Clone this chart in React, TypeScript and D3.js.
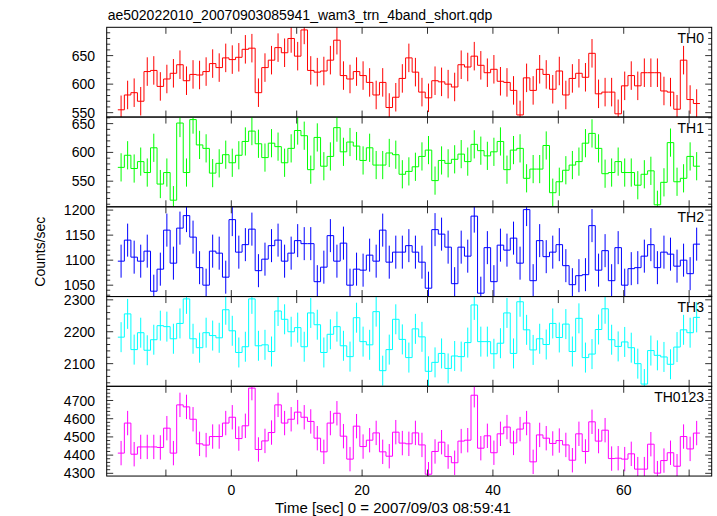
import React from "react";
import * as d3 from "d3";

const W = 717;
const H = 516;
const title = "ae502022010_20070903085941_wam3_trn_4band_short.qdp";
const xLabel = "Time [sec] 0 = 2007/09/03 08:59:41";
const yLabel = "Counts/sec";

const firstBinCenter = -16.85;
const binWidth = 1;

const th0 = [555,581,585,570,622,624,596,609,619,634,606,617,616,622,636,629,646,643,647,661,663,585,629,642,664,655,680,649,695,624,621,623,642,677,615,609,622,615,603,581,603,559,577,610,646,621,586,576,606,604,600,595,634,630,649,633,620,626,605,603,589,546,611,589,626,617,591,623,581,610,619,612,654,583,586,586,548,597,615,597,620,620,620,588,586,556,642,573,566];
const th1 = [574,595,572,584,565,608,545,565,517,651,565,657,613,607,564,581,596,582,595,619,637,615,591,616,610,582,607,638,629,570,626,576,593,643,601,618,611,586,608,578,578,599,596,562,567,575,593,604,551,586,581,588,597,584,614,603,594,601,619,570,604,607,555,571,571,612,530,549,569,578,584,616,633,607,563,565,584,565,565,543,562,568,509,548,617,549,555,593,576];
const th2 = [1098,1140,1106,1098,1118,1038,1082,1160,1094,1164,1189,1146,1085,1050,1118,1114,1066,1181,1116,1131,1162,1079,1102,1129,1140,1098,1114,1139,1133,1133,1057,1086,1149,1098,1134,1050,1082,1080,1110,1098,1160,1096,1116,1116,1129,1116,1096,1044,1161,1152,1126,1053,1126,1108,1188,1034,1125,1057,1130,1120,1144,1094,1201,1059,1139,1107,1116,1131,1089,1051,1069,1071,1169,1080,1119,1059,1125,1050,1083,1085,1108,1131,1085,1116,1112,1088,1100,1073,1132];
const th3 = [2183,2256,2144,2197,2142,2175,2219,2216,2178,2226,2303,2178,2150,2197,2188,2181,2269,2203,2135,2153,2303,2156,2159,2138,2265,2239,2200,2213,2153,2259,2222,2135,2192,2216,2156,2122,2244,2169,2159,2263,2078,2144,2239,2176,2119,2209,2184,2076,2104,2132,2085,2124,2122,2166,2284,2169,2169,2131,2164,2259,2132,2294,2206,2143,2178,2160,2226,2182,2224,2138,2242,2119,2130,2207,2272,2175,2154,2168,2150,2100,2036,2141,2126,2121,2098,2152,2206,2197,2245];
const th0123 = [4411,4576,4405,4445,4445,4445,4442,4548,4411,4676,4665,4597,4462,4455,4502,4502,4576,4608,4491,4561,4768,4431,4478,4524,4676,4576,4597,4636,4608,4585,4493,4418,4576,4630,4504,4378,4559,4447,4482,4522,4418,4394,4526,4466,4462,4522,4456,4295,4420,4471,4392,4358,4477,4482,4729,4438,4506,4413,4517,4554,4467,4543,4576,4363,4511,4493,4464,4480,4456,4372,4517,4420,4583,4477,4537,4381,4383,4378,4407,4323,4323,4460,4301,4370,4413,4339,4502,4434,4521];

const seriesList = [th0, th1, th2, th3, th0123];
const panelNames = ["TH0", "TH1", "TH2", "TH3", "TH0123"];
const panelColors = ["#ff0000", "#00ff00", "#0000ff", "#00ffff", "#ff00ff"];
const errHalf = [25, 24.5, 33, 47, 67];
const yDomains = [[542.3, 699.6], [505.5, 661.4], [1027.3, 1206.6], [2029, 2310.3], [4285, 4778]];
const yTickValues = [[550, 600, 650], [550, 600, 650], [1050, 1100, 1150, 1200], [2100, 2200, 2300], [4300, 4400, 4500, 4600, 4700]];
const yMinorStep = [10, 10, 10, 20, 20];
const xDomain = [-19.05, 73.45];
const xTickValues = [-10, 0, 10, 20, 30, 40, 50, 60, 70];
const xLabelValues = [0, 20, 40, 60];

const FONT = "'Liberation Sans', Arial, Helvetica, sans-serif";
const left = 106.7;
const right = 711.7;
const top0 = 27.3;
const panelH = 89.75;
const majorLen = 6.5;
const minorLen = 3.5;

export default function App() {
  const x = d3.scaleLinear().domain(xDomain).range([left, right]);
  const times = d3.range(th0.length).map((i) => firstBinCenter + i * binWidth);

  return (
    <svg
      width={W}
      height={H}
      viewBox={`0 0 ${W} ${H}`}
      style={{ position: "absolute", left: 0, top: 0, background: "#fff" }}
      fontFamily={FONT}
    >
      <defs>
        {seriesList.map((_, p) => (
          <clipPath id={`clip${p}`} key={p}>
            <rect x={left} y={top0 + p * panelH} width={right - left} height={panelH} />
          </clipPath>
        ))}
      </defs>
      <rect x={0} y={0} width={W} height={H} fill="#fff" />
      <text x={left + 1} y={20} fontSize={14} fill="#000">{title}</text>
      {seriesList.map((vals, p) => {
        const pt = top0 + p * panelH;
        const pb = pt + panelH;
        const y = d3.scaleLinear().domain(yDomains[p]).range([pb, pt]);
        const pts: [number, number][] = [];
        vals.forEach((v, i) => {
          pts.push([x(times[i] - binWidth / 2), y(v)]);
          pts.push([x(times[i] + binWidth / 2), y(v)]);
        });
        const line = d3.line()(pts) || "";
        const [d0, d1] = yDomains[p];
        const minors = d3.range(Math.ceil(d0 / yMinorStep[p]) * yMinorStep[p], d1, yMinorStep[p]);
        const color = panelColors[p];
        return (
          <g key={p}>
            <g clipPath={`url(#clip${p})`}>
              {vals.map((v, i) => (
                <line
                  key={i}
                  x1={x(times[i])}
                  x2={x(times[i])}
                  y1={y(v - errHalf[p])}
                  y2={y(v + errHalf[p])}
                  stroke={color}
                  strokeWidth={1}
                />
              ))}
              <path d={line} fill="none" stroke={color} strokeWidth={1} />
            </g>
            {minors.map((m) => {
              const isMajor = yTickValues[p].includes(m);
              const len = isMajor ? majorLen : minorLen;
              return (
                <g key={m} stroke="#333" strokeWidth={1}>
                  <line x1={left} x2={left + len} y1={y(m)} y2={y(m)} />
                  <line x1={right} x2={right - len} y1={y(m)} y2={y(m)} />
                </g>
              );
            })}
            {xTickValues.map((t) => (
              <g key={t} stroke="#333" strokeWidth={1}>
                <line x1={x(t)} x2={x(t)} y1={pt} y2={pt + majorLen} />
                <line x1={x(t)} x2={x(t)} y1={pb} y2={pb - majorLen} />
              </g>
            ))}
            {yTickValues[p].map((tv) => (
              <text
                key={tv}
                x={95}
                y={y(tv)}
                dy="0.36em"
                textAnchor="end"
                fontSize={14}
                fill="#000"
              >
                {tv}
              </text>
            ))}
            <text x={704} y={pt + 15.5} textAnchor="end" fontSize={14} fill="#000">
              {panelNames[p]}
            </text>
            <rect x={left} y={pt} width={right - left} height={panelH} fill="none" stroke="#000" strokeWidth={1} />
          </g>
        );
      })}
      {xLabelValues.map((t) => (
        <text key={t} x={x(t)} y={495} textAnchor="middle" fontSize={14} fill="#000">
          {t}
        </text>
      ))}
      <text x={275} y={513} textAnchor="start" fontSize={15} fill="#000">
        {xLabel}
      </text>
      <text
        transform={`translate(45, ${top0 + 2.5 * panelH}) rotate(-90)`}
        textAnchor="middle"
        fontSize={14}
        fill="#000"
      >
        {yLabel}
      </text>
    </svg>
  );
}
